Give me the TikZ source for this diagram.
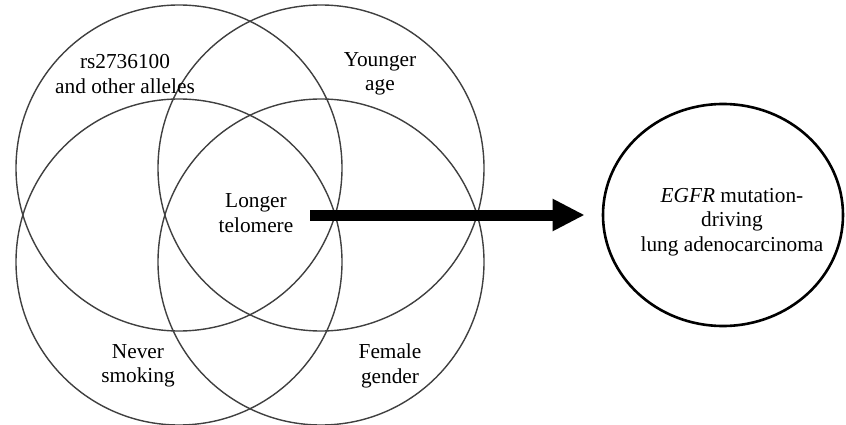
\documentclass[tikz,border=0pt]{standalone}
\usepackage{fontspec}
\setmainfont{Liberation Serif}
\usetikzlibrary{shapes.geometric,arrows.meta}
\begin{document}
\begin{tikzpicture}[x=1pt,y=-1pt,
  venn/.style={circle,draw=black!75,line width=1.4pt,minimum size=326pt,inner sep=0pt},
  lbl/.style={align=center,font=\fontsize{21.3}{24.5}\selectfont,inner sep=0pt},
  outcome/.style={ellipse,draw=black,line width=2.6pt,minimum width=240pt,minimum height=222pt,inner sep=0pt},
  bigarrow/.style={line width=11pt,-{Triangle[length=32pt,width=30pt]}}]
\useasboundingbox (0,0) rectangle (846,425);
\node[venn] (tl) at (179,168) {};
\node[venn] (tr) at (321,168) {};
\node[venn] (bl) at (179,262) {};
\node[venn] (br) at (321,262) {};
\node[lbl] (l1) at (125,74) {rs2736100\\and other alleles};
\node[lbl] (l2) at (380,74) {Younger\\age};
\node[lbl] (l3) at (256,213) {Longer\\telomere};
\node[lbl] (l4) at (138,366) {Never\\smoking};
\node[lbl] (l5) at (390,366) {Female\\gender};
\node[outcome] (out) at (723,215) {};
\node[lbl] (t) at (732,222) {\textit{EGFR} mutation-\\driving\\lung adenocarcinoma};
\coordinate (start) at (310,215);
\draw[bigarrow,shorten >=17pt] (start) -- (out.west);
\end{tikzpicture}
\end{document}
